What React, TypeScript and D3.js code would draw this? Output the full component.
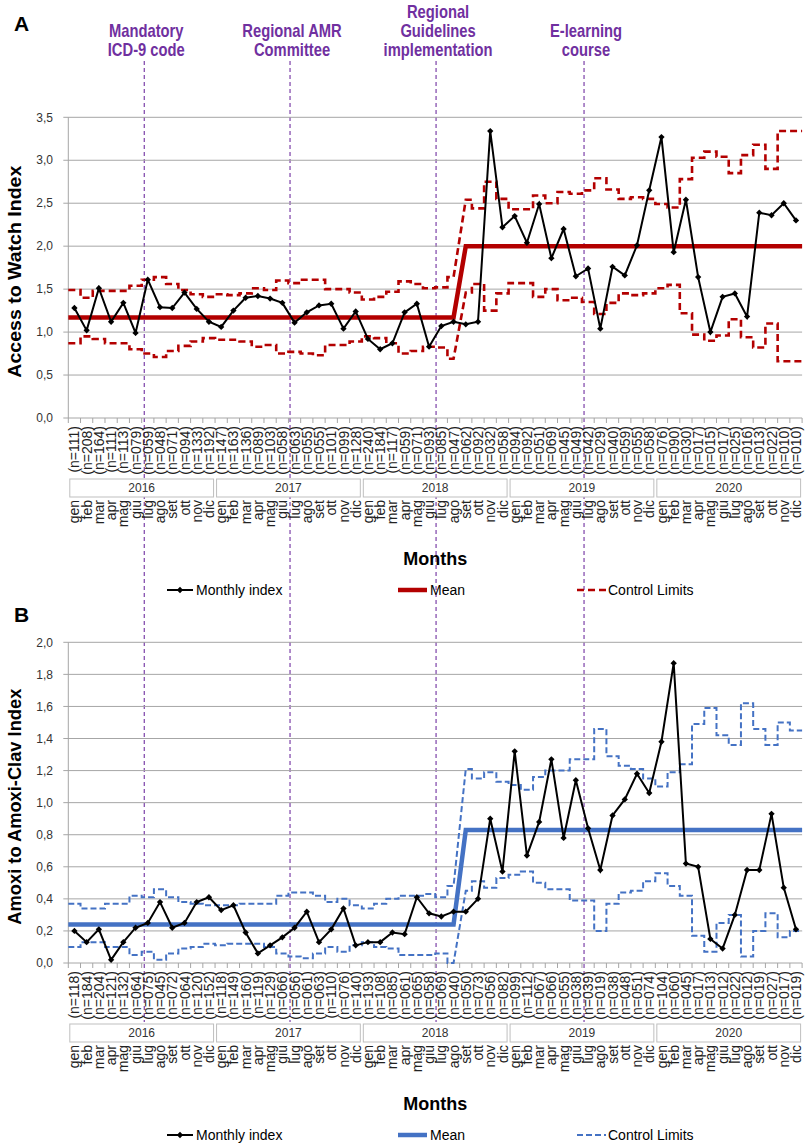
import React from "react";
import * as d3 from "d3";

// month / year categories
const MONTHS = ["gen", "feb", "mar", "apr", "mag", "giu", "lug", "ago", "set", "ott", "nov", "dic"];
const YEARS = ["2016", "2017", "2018", "2019", "2020"];

// phase change (first month of the second phase)
const SHIFT = 32;

// intervention markers (position in month units)
const EVENTS = [
  { lines: ["Mandatory", "ICD-9 code"], at: 5.71 },
  { lines: ["Regional AMR", "Committee"], at: 17.63 },
  { lines: ["Regional", "Guidelines", "implementation"], at: 29.57 },
  { lines: ["E-learning", "course"], at: 41.67 },
];

// ---- Panel A: Access to Watch Index
const N_A = [
  "111", "208", "164", "111", "113", "079", "059", "048", "071", "094", "133", "192",
  "147", "163", "136", "089", "103", "058", "063", "055", "055", "101", "099", "128",
  "240", "184", "117", "059", "071", "093", "085", "047", "062", "092", "032", "058",
  "094", "092", "051", "069", "045", "049", "042", "029", "040", "059", "055", "058",
  "076", "090", "030", "017", "015", "017", "025", "016", "013", "022", "010", "010",
];
const INDEX_A = [
  1.28, 1.02, 1.51, 1.12, 1.34, 0.99, 1.61, 1.29, 1.28, 1.46, 1.27, 1.12,
  1.06, 1.25, 1.40, 1.42, 1.39, 1.34, 1.11, 1.23, 1.31, 1.33, 1.04, 1.24,
  0.92, 0.80, 0.87, 1.23, 1.33, 0.83, 1.07, 1.12, 1.09, 1.12, 3.34, 2.22,
  2.35, 2.04, 2.49, 1.86, 2.20, 1.65, 1.74, 1.04, 1.76, 1.66, 2.01, 2.65,
  3.27, 1.93, 2.54, 1.64, 1.00, 1.41, 1.45, 1.18, 2.39, 2.36, 2.50, 2.30,
];
const UCL_A = [
  1.49, 1.40, 1.48, 1.48, 1.48, 1.54, 1.61, 1.64, 1.56, 1.49, 1.44, 1.41,
  1.44, 1.43, 1.45, 1.51, 1.49, 1.60, 1.57, 1.61, 1.61, 1.50, 1.50, 1.46,
  1.38, 1.41, 1.47, 1.59, 1.56, 1.51, 1.52, 1.64, 2.54, 2.44, 2.75, 2.55,
  2.43, 2.43, 2.59, 2.50, 2.63, 2.61, 2.65, 2.79, 2.66, 2.55, 2.57, 2.55,
  2.49, 2.45, 2.78, 3.03, 3.10, 3.04, 2.85, 3.06, 3.18, 2.90, 3.34, 3.34,
];
const LCL_A = [
  0.87, 0.95, 0.92, 0.87, 0.87, 0.80, 0.75, 0.71, 0.78, 0.84, 0.89, 0.93,
  0.91, 0.91, 0.89, 0.83, 0.85, 0.75, 0.77, 0.75, 0.73, 0.85, 0.85, 0.89,
  0.95, 0.93, 0.87, 0.75, 0.78, 0.83, 0.82, 0.69, 1.46, 1.56, 1.25, 1.45,
  1.57, 1.57, 1.41, 1.50, 1.37, 1.40, 1.35, 1.21, 1.34, 1.45, 1.43, 1.45,
  1.51, 1.55, 1.22, 0.97, 0.90, 0.96, 1.15, 0.94, 0.82, 1.10, 0.66, 0.66,
];
const MEAN_A = [1.17, 2.0];
const TICKS_A = [0, 0.5, 1.0, 1.5, 2.0, 2.5, 3.0, 3.5];

// ---- Panel B: Amoxi to Amoxi-Clav Index
const N_B = [
  "118", "184", "204", "121", "132", "064", "075", "045", "072", "064", "120", "152",
  "118", "149", "160", "119", "129", "066", "056", "061", "063", "110", "076", "140",
  "193", "108", "085", "061", "065", "058", "069", "040", "050", "073", "056", "082",
  "099", "112", "067", "066", "055", "038", "039", "019", "038", "048", "051", "074",
  "104", "060", "045", "017", "013", "012", "022", "012", "019", "027", "017", "019",
];
const INDEX_B = [
  0.20, 0.13, 0.21, 0.02, 0.13, 0.22, 0.25, 0.38, 0.22, 0.25, 0.38, 0.41,
  0.33, 0.36, 0.19, 0.06, 0.11, 0.16, 0.22, 0.32, 0.13, 0.21, 0.34, 0.11,
  0.13, 0.13, 0.19, 0.18, 0.41, 0.31, 0.29, 0.32, 0.32, 0.40, 0.90, 0.57,
  1.32, 0.67, 0.88, 1.27, 0.78, 1.14, 0.84, 0.58, 0.92, 1.02, 1.18, 1.06,
  1.38, 1.87, 0.62, 0.60, 0.15, 0.09, 0.30, 0.58, 0.58, 0.93, 0.47, 0.21,
];
const UCL_B = [
  0.37, 0.34, 0.34, 0.37, 0.37, 0.42, 0.41, 0.46, 0.41, 0.38, 0.37, 0.36,
  0.36, 0.36, 0.37, 0.37, 0.37, 0.42, 0.44, 0.44, 0.42, 0.38, 0.40, 0.36,
  0.34, 0.37, 0.40, 0.42, 0.42, 0.43, 0.41, 0.48, 1.21, 1.15, 1.19, 1.13,
  1.11, 1.08, 1.16, 1.20, 1.20, 1.27, 1.27, 1.46, 1.29, 1.23, 1.21, 1.15,
  1.10, 1.19, 1.24, 1.49, 1.59, 1.42, 1.36, 1.62, 1.46, 1.36, 1.50, 1.45,
];
const LCL_B = [
  0.10, 0.13, 0.13, 0.10, 0.10, 0.05, 0.07, 0.02, 0.06, 0.09, 0.10, 0.12,
  0.11, 0.12, 0.12, 0.12, 0.10, 0.06, 0.04, 0.03, 0.06, 0.10, 0.07, 0.11,
  0.13, 0.10, 0.09, 0.05, 0.05, 0.05, 0.06, 0.00, 0.45, 0.51, 0.47, 0.53,
  0.55, 0.57, 0.50, 0.46, 0.46, 0.39, 0.39, 0.20, 0.37, 0.44, 0.45, 0.51,
  0.56, 0.48, 0.42, 0.17, 0.07, 0.25, 0.30, 0.04, 0.20, 0.31, 0.16, 0.20,
];
const MEAN_B = [0.24, 0.83];
const TICKS_B = [0, 0.2, 0.4, 0.6, 0.8, 1.0, 1.2, 1.4, 1.6, 1.8, 2.0];

const W = 810;
const H = 1143;
const FONT = "'Liberation Sans', Arial, sans-serif";
const PURPLE = "#7030a0";

const x = d3.scaleLinear().domain([-0.5, 59.5]).range([68.3, 802.1]);
const fmt = (v: number) => v.toFixed(1).replace(".", ",");

// horizontal segment per month, sloped join at the phase change
function stepPts(vals: number[]): [number, number][] {
  const pts: [number, number][] = [];
  vals.forEach((v, i) => {
    pts.push([i === SHIFT ? i : i - 0.5, v]);
    pts.push([i === SHIFT - 1 ? i : i + 0.5, v]);
  });
  return pts;
}

function meanPts(means: number[]): [number, number][] {
  return [[-0.5, means[0]], [SHIFT - 1, means[0]], [SHIFT, means[1]], [59.5, means[1]]];
}

type PanelProps = {
  top: number;
  axisY: number;
  ticks: number[];
  letter: string;
  letterY: number;
  title: string;
  titleLen: number;
  nLabels: string[];
  index: number[];
  ucl: number[];
  lcl: number[];
  means: number[];
  color: string;
  limitWidth: number;
  limitDash: string;
};

function Panel(p: PanelProps) {
  const yMax = p.ticks[p.ticks.length - 1];
  const y = d3.scaleLinear().domain([0, yMax]).range([p.axisY, p.top]);
  const line = d3.line<[number, number]>().x(d => x(d[0])).y(d => y(d[1]));
  const step = x(0.5) - x(-0.5);
  const diamond = d3.symbol(d3.symbolSquare, 20)() as string;
  const months = YEARS.flatMap(() => MONTHS);
  const legendY = p.axisY + 172;

  return (
    <g fontFamily={FONT}>
      <text x={14} y={p.letterY} fontSize={21} fontWeight="bold" fill="#000">{p.letter}</text>

      {/* gridlines + y ticks */}
      {p.ticks.map(t => (
        <g key={t}>
          <line x1={x(-0.5) - 5} x2={x(59.5)} y1={y(t)} y2={y(t)} stroke="#a6a6a6" strokeWidth={1} />
          <text x={53} y={y(t)} dy="0.35em" textAnchor="end" fontSize={12} fill="#333">{fmt(t)}</text>
        </g>
      ))}
      <line x1={x(-0.5)} x2={x(-0.5)} y1={p.top} y2={p.axisY} stroke="#a6a6a6" />
      {d3.range(61).map(k => (
        <line key={k} x1={x(k - 0.5)} x2={x(k - 0.5)} y1={p.axisY} y2={p.axisY + 5} stroke="#a6a6a6" />
      ))}

      <text
        transform={`translate(21,${(p.top + p.axisY) / 2 + 4}) rotate(-90)`}
        textAnchor="middle" fontSize={19} fontWeight="bold"
        textLength={p.titleLen} lengthAdjust="spacingAndGlyphs" fill="#000"
      >{p.title}</text>

      {/* n labels */}
      {p.nLabels.map((n, i) => (
        <text key={i} transform={`translate(${x(i)},${p.axisY + 8}) rotate(-90)`}
          dy="0.36em" textAnchor="end" fontSize={14} fill="#222">{`(n=${n})`}</text>
      ))}

      {/* year boxes */}
      {YEARS.map((yr, k) => (
        <g key={yr}>
          <rect x={x(12 * k - 0.5) + 1.5} y={p.axisY + 61} width={12 * step - 3} height={18}
            fill="#fff" stroke="#bfbfbf" />
          <text x={x(12 * k + 5.5)} y={p.axisY + 70} dy="0.36em" textAnchor="middle"
            fontSize={12} fill="#333">{yr}</text>
        </g>
      ))}

      {/* month labels */}
      {months.map((m, i) => (
        <text key={i} transform={`translate(${x(i)},${p.axisY + 82}) rotate(-90)`}
          dy="0.36em" textAnchor="end" fontSize={14} fill="#222">{m}</text>
      ))}

      <text x={x(29.5)} y={p.axisY + 147} textAnchor="middle" fontSize={18} fontWeight="bold" fill="#000">Months</text>

      {/* series */}
      <path d={line(stepPts(p.ucl)) as string} fill="none" stroke={p.color} strokeWidth={p.limitWidth} strokeDasharray={p.limitDash} />
      <path d={line(stepPts(p.lcl)) as string} fill="none" stroke={p.color} strokeWidth={p.limitWidth} strokeDasharray={p.limitDash} />
      <path d={line(meanPts(p.means)) as string} fill="none" stroke={p.color} strokeWidth={4.5} />
      <path d={line(p.index.map((v, i) => [i, v] as [number, number])) as string} fill="none" stroke="#000" strokeWidth={2} />
      {p.index.map((v, i) => (
        <path key={i} d={diamond} transform={`translate(${x(i)},${y(v)}) rotate(45)`} fill="#000" />
      ))}

      {/* legend */}
      <line x1={167} x2={193} y1={legendY} y2={legendY} stroke="#000" strokeWidth={2} />
      <path d={diamond} transform={`translate(180,${legendY}) rotate(45)`} fill="#000" />
      <text x={196} y={legendY} dy="0.36em" fontSize={14} fill="#000">Monthly index</text>
      <line x1={398} x2={427} y1={legendY} y2={legendY} stroke={p.color} strokeWidth={4.5} />
      <text x={430} y={legendY} dy="0.36em" fontSize={14} fill="#000">Mean</text>
      <line x1={577} x2={606} y1={legendY} y2={legendY} stroke={p.color} strokeWidth={p.limitWidth} strokeDasharray={p.limitDash} />
      <text x={608} y={legendY} dy="0.36em" fontSize={14} fill="#000">Control Limits</text>
    </g>
  );
}

export default function App() {
  return (
    <svg width={W} height={H} viewBox={`0 0 ${W} ${H}`}
      style={{ position: "absolute", left: 0, top: 0, background: "#fff" }}>
      <rect width={W} height={H} fill="#fff" />

      {/* intervention lines */}
      {EVENTS.map(e => (
        <g key={e.at}>
          <line x1={x(e.at)} x2={x(e.at)} y1={61} y2={1022} stroke={PURPLE} strokeWidth={1.1} strokeDasharray="4,3" />
          {e.lines.map((t, j) => (
            <text key={t} transform={`translate(${x(e.at) + 2},${56 - (e.lines.length - 1 - j) * 19}) scale(0.82,1)`}
              textAnchor="middle" fontFamily={FONT}
              fontSize={18} fontWeight="bold" fill={PURPLE}>{t}</text>
          ))}
        </g>
      ))}

      <Panel top={117.3} axisY={418} ticks={TICKS_A} letter="A" letterY={31}
        title="Access to Watch Index" titleLen={212} nLabels={N_A}
        index={INDEX_A} ucl={UCL_A} lcl={LCL_A} means={MEAN_A}
        color="#b30000" limitWidth={2.6} limitDash="7,4" />
      <Panel top={642.3} axisY={963} ticks={TICKS_B} letter="B" letterY={622}
        title="Amoxi to Amoxi-Clav Index" titleLen={236} nLabels={N_B}
        index={INDEX_B} ucl={UCL_B} lcl={LCL_B} means={MEAN_B}
        color="#4472c4" limitWidth={2} limitDash="6,3" />
    </svg>
  );
}
